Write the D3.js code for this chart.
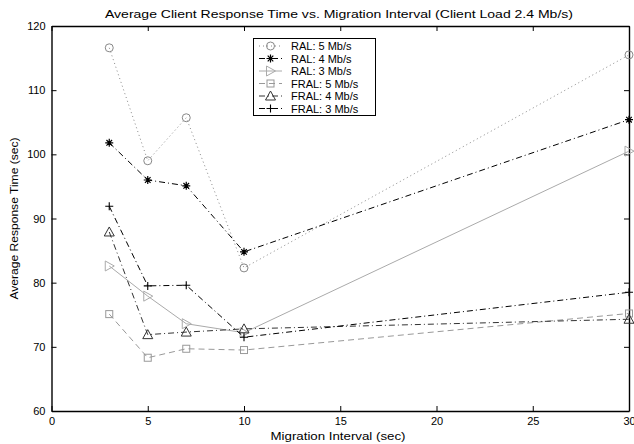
<!DOCTYPE html>
<html>
<head>
<meta charset="utf-8">
<script src="https://cdn.jsdelivr.net/npm/d3@7"></script>
<style>
  body { margin: 0; background: #fff; }
  text { font-family: "Liberation Sans", Arial, sans-serif; }
</style>
</head>
<body>
<div id="chart"></div>
<script>
////////////////////////////// data //////////////////////////////
const intervals = [3, 5, 7, 10, 30];

const seriesNames = ["RAL: 5 Mb/s", "RAL: 4 Mb/s", "RAL: 3 Mb/s",
  "FRAL: 5 Mb/s", "FRAL: 4 Mb/s", "FRAL: 3 Mb/s"];

const ral5 = [116.6, 99.0, 105.7, 82.3, 115.5];
const ral4 = [101.8, 96.0, 95.1, 84.8, 105.4];
const ral3 = [82.6, 77.9, 73.6, 72.2, 100.5];
const fral5 = [75.1, 68.3, 69.7, 69.5, 75.2];
const fral4 = [87.9, 71.9, 72.3, 72.8, 74.3];
const fral3 = [91.9, 79.5, 79.6, 71.5, 78.5];

const xTicks = [0, 5, 10, 15, 20, 25, 30];
const yTicks = [60, 70, 80, 90, 100, 110, 120];

////////////////////////////// styles //////////////////////////////
const styles = [
  { color: "#888", dash: "1,3", marker: "circle" },
  { color: "#000", dash: "6,3,1,3", marker: "star" },
  { color: "#aaa", dash: null, marker: "triRight" },
  { color: "#999", dash: "6,4", marker: "square" },
  { color: "#333", dash: "6,3,1,3", marker: "triUp" },
  { color: "#000", dash: "6,3,1,3", marker: "plus" }
];
const allSeries = [ral5, ral4, ral3, fral5, fral4, fral3];

////////////////////////////// svg //////////////////////////////
const width = 634, height = 444;
const margin = { top: 26, right: 5, bottom: 33, left: 51.5 };

const svg = d3.select("#chart").append("svg")
  .attr("width", width).attr("height", height);

const x = d3.scaleLinear().domain([0, 30]).range([margin.left, width - margin.right]);
const y = d3.scaleLinear().domain([60, 120]).range([height - margin.bottom, margin.top]);

// axes (ticks inward, box on all sides)
const tl = 5;
svg.append("g").attr("transform", `translate(0,${y(60)})`)
  .call(d3.axisBottom(x).tickValues(xTicks).tickSizeInner(-tl).tickSizeOuter(0).tickPadding(6));
svg.append("g").attr("transform", `translate(0,${y(120)})`)
  .call(d3.axisTop(x).tickValues(xTicks).tickSizeInner(-tl).tickSizeOuter(0).tickFormat(""));
svg.append("g").attr("transform", `translate(${x(0)},0)`)
  .call(d3.axisLeft(y).tickValues(yTicks).tickSizeInner(-tl).tickSizeOuter(0).tickPadding(6));
svg.append("g").attr("transform", `translate(${x(30)},0)`)
  .call(d3.axisRight(y).tickValues(yTicks).tickSizeInner(-tl).tickSizeOuter(0).tickFormat(""));

svg.selectAll(".domain").attr("stroke", "#000").attr("stroke-width", 1.4);
svg.selectAll(".tick line").attr("stroke", "#000");
svg.selectAll(".tick text").attr("font-size", 11).attr("fill", "#000")
  .attr("font-family", "Liberation Sans, Arial, sans-serif");

// title and labels (the original font is wider, so stretch to its length)
svg.append("text").attr("x", 339).attr("y", 17.5).attr("text-anchor", "middle")
  .attr("font-size", 11).attr("textLength", 468).attr("lengthAdjust", "spacingAndGlyphs")
  .text("Average Client Response Time vs. Migration Interval (Client Load 2.4 Mb/s)");
svg.append("text").attr("x", 338).attr("y", 440).attr("text-anchor", "middle")
  .attr("font-size", 11).attr("textLength", 135).attr("lengthAdjust", "spacingAndGlyphs")
  .text("Migration Interval (sec)");
svg.append("text").attr("transform", `translate(18,${(y(60) + y(120)) / 2}) rotate(-90)`)
  .attr("text-anchor", "middle").attr("font-size", 11)
  .attr("textLength", 162).attr("lengthAdjust", "spacingAndGlyphs")
  .text("Average Response Time (sec)");

// markers
function drawMarker(g, type, cx, cy, color) {
  const s = 4;
  if (type === "circle") {
    g.append("circle").attr("cx", cx).attr("cy", cy).attr("r", s)
      .attr("fill", "none").attr("stroke", color);
  } else if (type === "square") {
    g.append("rect").attr("x", cx - s + 0.5).attr("y", cy - s + 0.5)
      .attr("width", 2 * s - 1).attr("height", 2 * s - 1)
      .attr("fill", "none").attr("stroke", color);
  } else if (type === "triUp") {
    g.append("path").attr("d", `M${cx},${cy - s - 1}L${cx + s + 1},${cy + s}L${cx - s - 1},${cy + s}Z`)
      .attr("fill", "none").attr("stroke", color);
  } else if (type === "triRight") {
    g.append("path").attr("d", `M${cx + s + 1},${cy}L${cx - s},${cy - s - 1}L${cx - s},${cy + s + 1}Z`)
      .attr("fill", "none").attr("stroke", color);
  } else if (type === "plus") {
    g.append("path").attr("d", `M${cx - s},${cy}H${cx + s}M${cx},${cy - s}V${cy + s}`)
      .attr("stroke", color).attr("stroke-width", 1.1);
  } else if (type === "star") {
    const r = s;
    const d = r * 0.7;
    g.append("path").attr("d",
      `M${cx - r},${cy}H${cx + r}M${cx},${cy - r}V${cy + r}M${cx - d},${cy - d}L${cx + d},${cy + d}M${cx - d},${cy + d}L${cx + d},${cy - d}`)
      .attr("stroke", color).attr("stroke-width", 1.2);
  }
}

const line = d3.line().x((d, i) => x(intervals[i])).y(d => y(d));

const plot = svg.append("g");
allSeries.forEach((vals, k) => {
  const st = styles[k];
  plot.append("path").datum(vals).attr("d", line)
    .attr("fill", "none").attr("stroke", st.color).attr("stroke-width", 1)
    .attr("stroke-dasharray", st.dash);
  vals.forEach((v, i) => drawMarker(plot, st.marker, x(intervals[i]), y(v), st.color));
});

// legend
const lg = svg.append("g");
lg.append("rect").attr("x", 253.5).attr("y", 38.5).attr("width", 122).attr("height", 77)
  .attr("fill", "#fff").attr("stroke", "#000").attr("stroke-width", 1);
seriesNames.forEach((name, k) => {
  const st = styles[k];
  const ry = 46 + k * 12.5;
  lg.append("line").attr("x1", 259).attr("x2", 282).attr("y1", ry).attr("y2", ry)
    .attr("stroke", st.color).attr("stroke-dasharray", st.dash);
  drawMarker(lg, st.marker, 270.5, ry, st.color);
  lg.append("text").attr("x", 291).attr("y", ry + 4).attr("font-size", 11).text(name);
});
</script>
</body>
</html>
